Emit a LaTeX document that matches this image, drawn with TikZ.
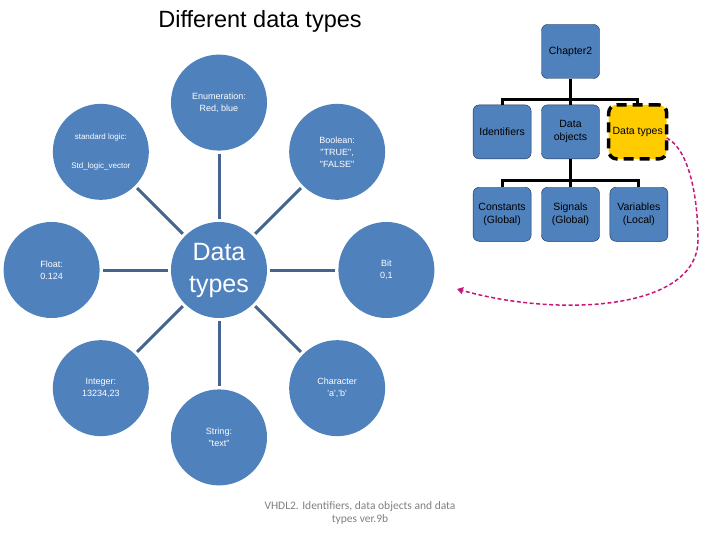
\documentclass[tikz,border=0pt]{standalone}
\usepackage{fontspec}
\newfontfamily\arialfont{Liberation Sans}
\newfontfamily\calfont{Carlito}
\definecolor{dtblue}{HTML}{4F81BD}
\definecolor{dtspoke}{HTML}{45658F}
\definecolor{dtnavy}{HTML}{1F2F4F}
\definecolor{dtyellow}{HTML}{FFCC00}
\definecolor{dtpink}{HTML}{C8177A}
\usetikzlibrary{arrows.meta,positioning}

\begin{document}
\begin{tikzpicture}[x=1pt,y=-1pt,node distance=71pt,
    bub/.style={circle,fill=dtblue,minimum size=96pt,inner sep=0pt,align=center,text=white,font=\arialfont\fontsize{9}{12}\selectfont},
    spoke/.style={draw=dtspoke,line width=3pt,shorten <=3pt,shorten >=3pt},
    orgbox/.style={draw=dtnavy,fill=dtblue,rounded corners=6pt,minimum width=58pt,minimum height=54pt,inner sep=1pt,align=center,font=\arialfont\fontsize{10.5}{13}\selectfont},
    tree/.style={line width=3pt,black},
    link/.style={dtpink,line width=1.5pt,dash pattern=on 4pt off 2.5pt,-{Triangle[length=6pt,width=7pt]}}]
  \useasboundingbox (0,0) rectangle (720,540);
  \node[font=\arialfont\fontsize{23.5}{27}\selectfont] (title) at (260,21) {Different data types};
  % wheel of types
  \node[bub,font=\arialfont\fontsize{25}{32}\selectfont] (hub) at (219,270) {Data\\types};
  \node[bub,above=of hub] (enm) {Enumeration:\\Red, blue};
  \node[bub,below=of hub] (str) {String:\\"text"};
  \node[bub,left=of hub] (flt) {Float:\\0.124};
  \node[bub,right=of hub] (bit) {Bit\\0,1};
  \node[bub,above left=50pt and 50pt of hub,font=\arialfont\fontsize{8}{10}\selectfont] (stdl) {standard logic:\\[19pt]Std\_logic\_vector};
  \node[bub,above right=50pt and 50pt of hub] (bool) {Boolean:\\"TRUE",\\"FALSE"};
  \node[bub,below left=50pt and 50pt of hub] (intg) {Integer:\\13234,23};
  \node[bub,below right=50pt and 50pt of hub] (chr) {Character\\'a','b'};
  \foreach \s in {enm,str,flt,bit,stdl,bool,intg,chr}
    \draw[spoke] (hub) -- (\s);
  % chapter tree
  \node[orgbox] (ch) at (570.5,51.5) {Chapter2};
  \node[orgbox,below=26pt of ch] (dobj) {Data\\objects};
  \node[orgbox,left=10pt of dobj] (idf) {Identifiers};
  \node[orgbox,right=9pt of dobj,fill=dtyellow,draw=black,line width=3.5pt,dash pattern=on 10pt off 6pt,rounded corners=8pt,outer sep=0pt] (dtyp) {Data types};
  \node[orgbox,below=28pt of dobj] (sig) {Signals\\(Global)};
  \node[orgbox,left=10pt of sig] (cnst) {Constants\\(Global)};
  \node[orgbox,right=10pt of sig] (var) {Variables\\(Local)};
  \draw[tree] (ch.south) -- (dobj.north);
  \draw[tree] (idf.north) |- ([yshift=5pt]dobj.north) -| (dtyp.north);
  \draw[tree] (dobj.south) -- (sig.north);
  \draw[tree] (cnst.north) |- ([yshift=7pt]sig.north) -| (var.north);
  \coordinate (tip) at (457,289);
  \draw[link] ([yshift=-6pt]dtyp.east) .. controls (690,150) and (698,200) .. (698,240)
    .. controls (698,310) and (560,318) .. (tip);
  \node[font=\calfont\fontsize{11.5}{12.5}\selectfont,text=black!50,align=center] (foot) at (360,513)
    {VHDL2. Identifiers, data objects and data\\types ver.9b};
\end{tikzpicture}
\end{document}
